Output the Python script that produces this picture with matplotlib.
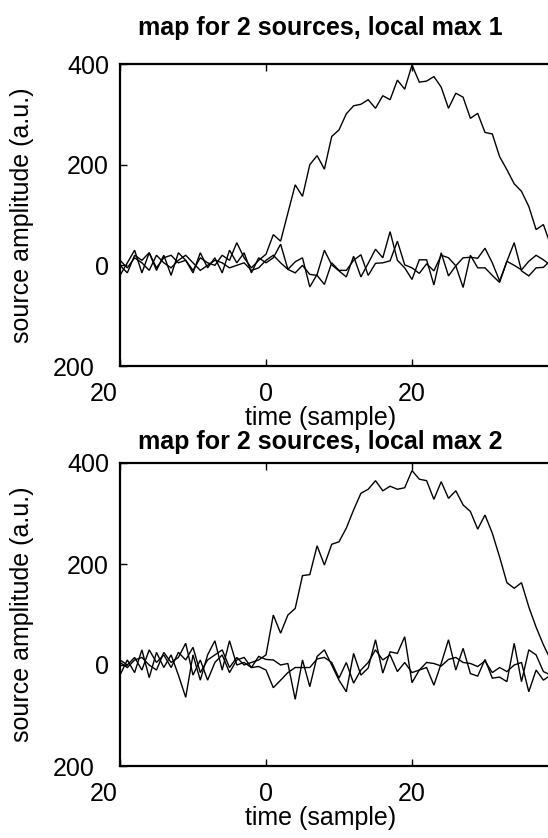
import numpy as np
import matplotlib
matplotlib.use("Agg")
import matplotlib.pyplot as plt
from matplotlib.transforms import ScaledTranslation

plt.rcParams['font.family'] = ['Liberation Sans', 'DejaVu Sans']

# ---- data -------------------------------------------------------------
time = np.arange(-20, 40)

# local max 1
top_src1 = [0, -15, 20, 10, 25, -5, 15, 20, 5, 10, -10, 15, 5, 0, 20, 10, 45, 15, -5, 10,
            22, 61, 48, 104, 160, 137, 200, 218, 191, 256, 269, 301, 317, 320, 329, 312,
            337, 329, 368, 350, 398, 364, 366, 375, 354, 312, 342, 334, 292, 302, 264,
            261, 216, 190, 162, 147, 117, 71, 81, 40]
top_src2 = [-20, 5, 30, -15, 25, -10, 20, -20, 25, 10, -15, 25, -5, 15, -15, 30, 5, 25, -15, 15,
            5, 15, 42, -8, 7, 15, -43, -18, 30, 1, -11, -23, 18, -23, 4, 32, 15, 67, 10, -5,
            -28, 11, 11, -39, 25, -21, -1, -44, 20, -5, -5, -20, -34, 8, 45, -11, -21, -5, -4, 10]
top_src3 = [10, -5, 15, 5, -10, 20, 5, -5, 10, 20, 5, -10, 0, 10, 5, -5, 0, 5, -10, -5,
            10, 20, 5, -8, -15, 0, -18, -20, -38, 5, -10, -10, 10, 21, -20, 4, 5, 9, 48, 1,
            -5, -16, 3, -11, 20, 15, -1, 15, 16, 14, 34, 5, -31, 8, 0, -9, 8, 20, 11, 0]

# local max 2
bot_src1 = [10, 0, 15, -10, 30, 5, 20, -5, 25, 10, 35, -15, 10, 20, 30, -5, 15, 0, 5, 10,
            20, 99, 63, 99, 112, 177, 179, 236, 198, 239, 244, 271, 307, 340, 348, 365,
            345, 354, 348, 351, 385, 368, 365, 328, 363, 330, 345, 317, 304, 269, 297,
            261, 214, 163, 152, 163, 115, 75, 40, 10]
bot_src2 = [-20, 10, -15, 30, -25, 25, -5, 20, -20, -64, 20, -30, 20, 48, -10, 48, 0, 5, -5, 17,
            11, 10, 0, 3, -68, 10, -43, 17, 30, 0, -30, -53, 23, -20, -6, 50, -16, 26, 23, 56,
            -35, -10, -5, -40, 3, 50, -10, 33, -17, -22, 11, -26, -24, -33, 43, -33, 30, 20, -13, -20]
bot_src3 = [5, -5, 10, 15, 0, -10, 25, 5, 15, 43, -20, 10, -30, 5, 20, -15, 10, 15, -5, -3,
            -10, -45, -30, -15, -5, -5, -5, 12, 15, 5, -26, 5, -36, -10, 5, 30, 10, 20, -13, 5,
            -15, -10, 5, 3, -2, 11, 15, 5, 3, -3, 8, -15, -5, -13, 0, 5, -53, -10, -30, -20]

titles = ["map for 2 sources, local max 1", "map for 2 sources, local max 2"]
xticks = [-20, 0, 20]
xtick_labels = ["20", "0", "20"]
yticks = [-200, 0, 200, 400]
ytick_labels = ["200", "0", "200", "400"]
xlabel = "time (sample)"
ylabel = "source amplitude (a.u.)"

# ---- layout (pixels) --------------------------------------------------
W, H = 548, 838
DPI = 100
fig = plt.figure(figsize=(W / DPI, H / DPI), dpi=DPI)

XMIN, XMAX = -20, 60
PX_PER_UNIT = 7.3
ax_left = 120
ax_width = (XMAX - XMIN) * PX_PER_UNIT

panels = [
    dict(top=64, bottom=366, series=(top_src1, top_src2, top_src3), title=titles[0],
         title_base=35, xlabel_base=425),
    dict(top=463, bottom=766, series=(bot_src1, bot_src2, bot_src3), title=titles[1],
         title_base=449, xlabel_base=825),
]

FS = 18

for p in panels:
    ax = fig.add_axes([ax_left / W, 1 - p['bottom'] / H, ax_width / W,
                       (p['bottom'] - p['top']) / H])
    for s in p['series']:
        ax.plot(time, s, color='black', lw=1.0, solid_joinstyle='miter')
    ax.set_xlim(XMIN, XMAX)
    ax.set_ylim(-200, 400)
    ax.set_xticks(xticks)
    ax.set_xticklabels(xtick_labels)
    ax.set_yticks(yticks)
    ax.set_yticklabels(ytick_labels)
    ax.tick_params(direction='in', length=5, width=1, top=True, right=False,
                   labelsize=FS, colors='black')
    ax.tick_params(axis='x', pad=11.5)
    ax.tick_params(axis='y', pad=8)
    for sp in ax.spines.values():
        sp.set_linewidth(1.6)

    # first x label and lowest y label sit slightly to the left
    xl = ax.get_xticklabels()[0]
    xl.set_transform(xl.get_transform() + ScaledTranslation(-16 / DPI, 0, fig.dpi_scale_trans))
    yl = ax.get_yticklabels()[0]
    yl.set_transform(yl.get_transform() + ScaledTranslation(-14 / DPI, 0, fig.dpi_scale_trans))

    fig.text(320 / W, 1 - p['title_base'] / H, p['title'], ha='center', va='baseline',
             fontsize=FS, fontweight='bold')
    fig.text(321 / W, 1 - p['xlabel_base'] / H, xlabel, ha='center', va='baseline',
             fontsize=FS)
    fig.text(22 / W, 1 - (p['top'] + p['bottom']) / 2 / H, ylabel, ha='center',
             va='center', rotation=90, fontsize=FS)

fig.savefig("out.png", dpi=DPI)
